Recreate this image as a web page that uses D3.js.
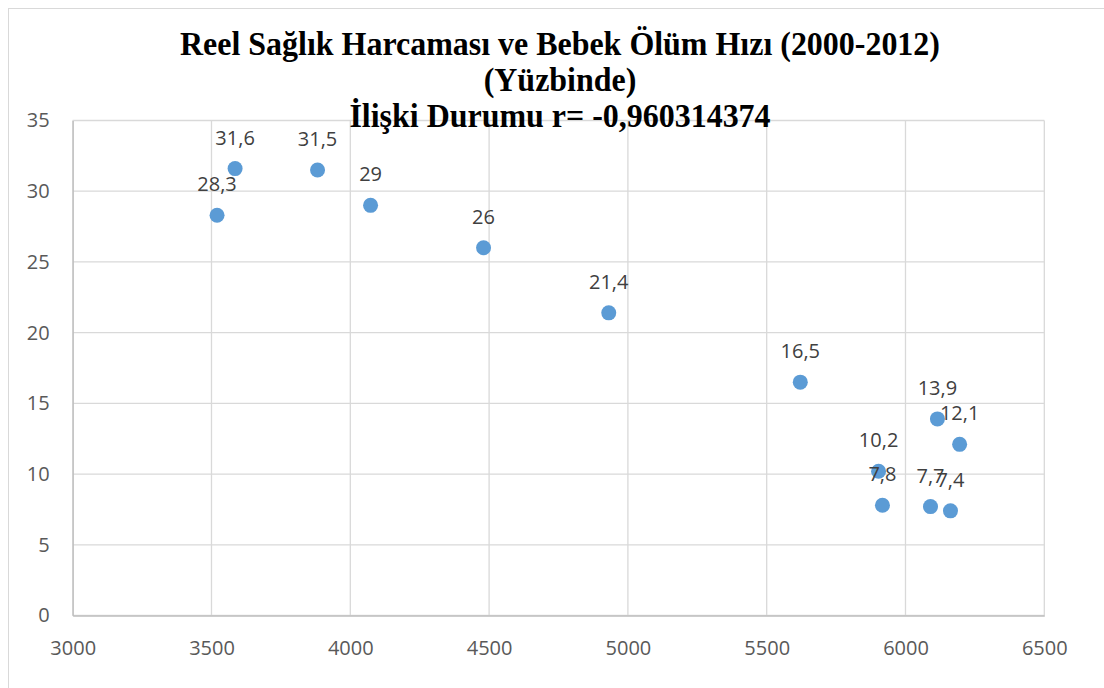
<!DOCTYPE html>
<html>
<head>
<meta charset="utf-8">
<script src="https://cdn.jsdelivr.net/npm/d3@7"></script>
<style>
  body { margin: 0; background: #fff; }
  .tick text { font-family: "Open Sans", "Noto Sans", sans-serif; fill: #595959; }
</style>
</head>
<body>
<div id="chart"></div>
<script>
// real health spending (x) vs infant mortality per thousand (y)
const spending = [3520, 3585, 3882, 4073, 4480, 4931, 5621, 6115, 6195, 5903, 5917, 6090, 6162]
const mortality = [28.3, 31.6, 31.5, 29, 26, 21.4, 16.5, 13.9, 12.1, 10.2, 7.8, 7.7, 7.4]
const pointLabels = ["28,3", "31,6", "31,5", "29", "26", "21,4", "16,5", "13,9", "12,1", "10,2", "7,8", "7,7", "7,4"]
const xTicks = [3000, 3500, 4000, 4500, 5000, 5500, 6000, 6500]
const yTicks = [0, 5, 10, 15, 20, 25, 30, 35]
const titleLines = ["Reel Sağlık Harcaması ve Bebek Ölüm Hızı (2000-2012)", "(Yüzbinde)", "İlişki Durumu r= -0,960314374"]

const width = 1104, height = 688
const margin = {top: 120.5, left: 72.7, right: 59.7, bottom: 72.5}

const svg = d3.select('#chart').append('svg')
    .attr('width', width)
    .attr('height', height)

// chart frame
svg.append('rect')
    .attr('x', 8.5).attr('y', 8.5)
    .attr('width', width + 10).attr('height', height + 10)
    .attr('fill', 'none')
    .attr('stroke', '#d9d9d9')

const x = d3.scaleLinear().domain([3000, 6500]).range([margin.left, width - margin.right])
const y = d3.scaleLinear().domain([0, 35]).range([height - margin.bottom, margin.top])

// grid
const grid = svg.append('g').attr('class', 'grid')
grid.selectAll('.hg').data(yTicks).enter().append('line')
    .attr('x1', x(3000)).attr('x2', x(6500))
    .attr('y1', d => y(d)).attr('y2', d => y(d))
    .attr('stroke', '#d9d9d9').attr('stroke-width', 1.3)
grid.selectAll('.vg').data(xTicks).enter().append('line')
    .attr('x1', d => x(d)).attr('x2', d => x(d))
    .attr('y1', y(0)).attr('y2', y(35))
    .attr('stroke', '#d9d9d9').attr('stroke-width', 1.3)

// axes
const xAxis = svg.append('g')
    .attr('transform', 'translate(0,' + (height - margin.bottom) + ')')
    .call(d3.axisBottom(x).tickValues(xTicks).tickSize(0).tickPadding(25).tickFormat(d3.format('d')))
xAxis.select('.domain').attr('stroke', '#bfbfbf').attr('stroke-width', 1.3)
xAxis.selectAll('text').style('font-size', '20px')

const yAxis = svg.append('g')
    .attr('transform', 'translate(' + margin.left + ',0)')
    .call(d3.axisLeft(y).tickValues(yTicks).tickSize(0).tickPadding(23))
yAxis.select('.domain').attr('stroke', '#bfbfbf').attr('stroke-width', 1.3)
yAxis.selectAll('text').style('font-size', '20px')

// points
const pts = spending.map((v, i) => ({x: v, y: mortality[i], label: pointLabels[i]}))
svg.append('g').selectAll('circle').data(pts).enter().append('circle')
    .attr('cx', d => x(d.x))
    .attr('cy', d => y(d.y))
    .attr('r', 7.5)
    .attr('fill', '#5b9bd5')

svg.append('g').selectAll('text').data(pts).enter().append('text')
    .attr('x', d => x(d.x))
    .attr('y', d => y(d.y) - 24)
    .attr('text-anchor', 'middle')
    .style('font-family', '"Open Sans", "Noto Sans", sans-serif')
    .style('font-size', '20px')
    .attr('fill', '#404040')
    .text(d => d.label)

// title (the original face is a bit narrower than Liberation Serif)
svg.append('g')
    .attr('transform', 'translate(560,0) scale(0.94,1)')
    .selectAll('text').data(titleLines).enter().append('text')
    .attr('x', 0)
    .attr('y', (d, i) => 55 + i * 36)
    .attr('text-anchor', 'middle')
    .style('font-family', '"Liberation Serif", "Times New Roman", serif')
    .style('font-weight', 'bold')
    .style('font-size', '34px')
    .attr('fill', '#000')
    .text(d => d)
</script>
</body>
</html>
